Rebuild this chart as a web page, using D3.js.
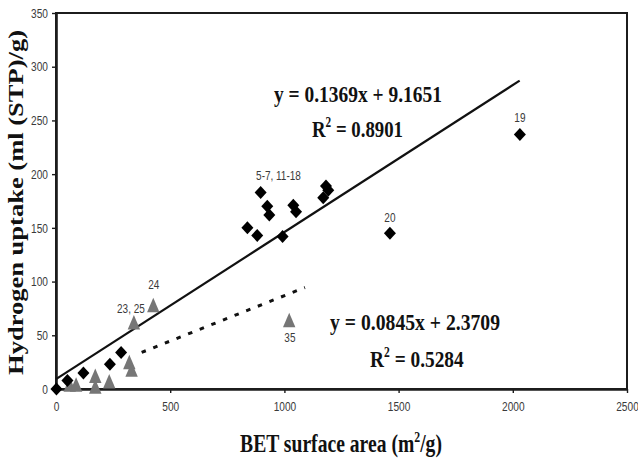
<!DOCTYPE html>
<html>
<head>
<meta charset="utf-8">
<script src="https://cdn.jsdelivr.net/npm/d3@7"></script>
<style>
  html, body { margin: 0; padding: 0; background: #fff; }
  svg { display: block; }
</style>
</head>
<body>
<script>
// Hydrogen uptake vs BET surface area — two sample families with linear fits

// Family A (diamonds): BET surface area (m²/g) and uptake (ml(STP)/g)
const diamondBET    = [2, 50, 120, 236, 285, 838, 881, 896, 925, 934, 992, 1039, 1051, 1170, 1182, 1192, 1462, 2031];
const diamondUptake = [0, 8, 15, 23, 34, 150, 143, 183, 170, 162, 142, 171, 165, 178, 189, 185, 145, 237];

// Family B (triangles)
const triangleBET    = [60, 88, 172, 172, 233, 321, 331, 341, 426, 1021];
const triangleUptake = [4, 4, 12, 2, 7, 25, 18, 62, 78, 64];

// Linear trend lines: slope, intercept, R² and the x range they span
const trendSlopes     = [0.1369, 0.0845];
const trendIntercepts = [9.1651, 2.3709];
const trendR2         = [0.8901, 0.5284];
const trendFrom       = [0, 375];
const trendTo         = [2030, 1090];

// Point annotations (sample numbers) and where they sit in data units
const noteTexts = ["5-7, 11-18", "19", "20", "24", "23, 25", "35"];
const noteBET   = [974, 2031, 1462, 428, 328, 1024];
const noteUp    = [194.5, 249, 155.5, 93, 71, 44];

// Axis ticks
const xTicks = [0, 500, 1000, 1500, 2000, 2500];
const yTicks = [0, 50, 100, 150, 200, 250, 300, 350];

const W = 638, H = 461;
const margin = { left: 56, top: 13, right: 11, bottom: 72 };

const svg = d3.select("body").append("svg")
  .attr("width", W).attr("height", H)
  .attr("viewBox", `0 0 ${W} ${H}`);

const x = d3.scaleLinear().domain([0, 2500]).range([margin.left, W - margin.right]);
const y = d3.scaleLinear().domain([0, 350]).range([H - margin.bottom, margin.top]);

const INK = "#1c1c1c";
const SERIF = "'Liberation Serif', 'Times New Roman', serif";
const SANS = "'Liberation Sans', Arial, sans-serif";

// Text placed at (px, py), optionally rotated, squeezed/stretched along its run to a given width
function placeText(parent, parts, o) {
  const g = parent.append("g")
    .attr("transform", `translate(${o.x},${o.y}) rotate(${o.rotate || 0})`);
  const t = g.append("text")
    .attr("text-anchor", o.anchor || "middle")
    .attr("font-family", o.family)
    .attr("font-weight", o.weight || "normal")
    .attr("font-size", o.size)
    .attr("fill", o.fill || INK);
  parts.forEach(p => {
    const ts = t.append("tspan").text(p.text);
    if (p.sup) ts.attr("font-size", o.size * 0.6).attr("dy", -o.size * 0.42);
    if (p.after) ts.attr("dy", o.size * 0.42);
  });
  let s = o.sx || 1;
  if (o.width) s = o.width / t.node().getBBox().width;
  t.attr("transform", `scale(${s},1)`);
  return g;
}

// Plot frame
svg.append("rect")
  .attr("x", x(0)).attr("y", y(350))
  .attr("width", x(2500) - x(0)).attr("height", y(0) - y(350))
  .attr("fill", "none").attr("stroke", INK).attr("stroke-width", 2);

// Axes
const fmt = d3.format("d");
const xAxis = svg.append("g")
  .attr("transform", `translate(0,${y(0)})`)
  .call(d3.axisBottom(x).tickValues(xTicks).tickFormat(fmt).tickSize(4).tickSizeOuter(0).tickPadding(9));
const yAxis = svg.append("g")
  .attr("transform", `translate(${x(0)},0)`)
  .call(d3.axisLeft(y).tickValues(yTicks).tickFormat(fmt).tickSize(4).tickSizeOuter(0).tickPadding(4));

[xAxis, yAxis].forEach(ax => {
  ax.select(".domain").attr("stroke", INK).attr("stroke-width", 2.6);
  ax.selectAll(".tick line").attr("stroke", INK).attr("stroke-width", 1.4);
  ax.selectAll(".tick text")
    .attr("font-family", SANS).attr("font-size", 13).attr("fill", "#3a3a3a");
});
xAxis.selectAll(".tick text").each(function () {
  const t = d3.select(this);
  const ty = +t.attr("y");
  t.attr("y", 0).attr("transform", `translate(0,${ty}) scale(0.78,1)`);
});
yAxis.selectAll(".tick text").each(function () {
  const t = d3.select(this);
  const tx = +t.attr("x");
  t.attr("x", 0).attr("transform", `translate(${tx},0) scale(0.78,1)`);
});

// Trend lines
const trendDash = [null, "4.5,8"];
const trendWidth = [2.2, 3];
trendSlopes.forEach((m, i) => {
  const b = trendIntercepts[i];
  svg.append("line")
    .attr("x1", x(trendFrom[i])).attr("y1", y(m * trendFrom[i] + b))
    .attr("x2", x(trendTo[i])).attr("y2", y(m * trendTo[i] + b))
    .attr("stroke", "#111")
    .attr("stroke-width", trendWidth[i])
    .attr("stroke-dasharray", trendDash[i]);
});

// Markers
const diamondPath = "M0,-6.5L6,0L0,6.5L-6,0Z";
const trianglePath = "M0,-7.5L6.2,7L-6.2,7Z";

svg.append("g").selectAll("path")
  .data(triangleBET.map((v, i) => [v, triangleUptake[i]]))
  .join("path")
  .attr("d", trianglePath)
  .attr("transform", d => `translate(${x(d[0])},${y(d[1])})`)
  .attr("fill", "#767676");

svg.append("g").selectAll("path")
  .data(diamondBET.map((v, i) => [v, diamondUptake[i]]))
  .join("path")
  .attr("d", diamondPath)
  .attr("transform", d => `translate(${x(d[0])},${y(d[1])})`)
  .attr("fill", "#000");

// Sample-number annotations
noteTexts.forEach((txt, i) => {
  placeText(svg, [{ text: txt }], {
    x: x(noteBET[i]), y: y(noteUp[i]),
    family: SANS, size: 12.5, sx: 0.8, fill: "#3a3a3a"
  });
});

// Fit equations
const eqCenters = [[1322, 267, 168], [1572, 55, 170]];
const r2Centers = [[1320, 234.5, 91], [1580, 20.5, 94]];
trendSlopes.forEach((m, i) => {
  const b = trendIntercepts[i];
  const [ex, ey, ew] = eqCenters[i];
  placeText(svg, [{ text: `y = ${m.toFixed(4)}x + ${b.toFixed(4)}` }], {
    x: x(ex), y: y(ey), family: SERIF, weight: "bold", size: 23, width: ew, fill: "#111"
  });
  const [rx, ry, rw] = r2Centers[i];
  placeText(svg, [{ text: "R" }, { text: "2", sup: true }, { text: ` = ${trendR2[i].toFixed(4)}`, after: true }], {
    x: x(rx), y: y(ry), family: SERIF, weight: "bold", size: 23, width: rw, fill: "#111"
  });
});

// Axis titles
placeText(svg, [{ text: "BET surface area (m" }, { text: "2", sup: true }, { text: "/g)", after: true }], {
  x: 341, y: 452, family: SERIF, weight: "bold", size: 25, width: 202, fill: "#111"
});
placeText(svg, [{ text: "Hydrogen uptake (ml (STP)/g)" }], {
  x: 23, y: 202.5, rotate: -90, family: SERIF, weight: "bold", size: 22, width: 345, fill: "#111"
});
</script>
</body>
</html>
